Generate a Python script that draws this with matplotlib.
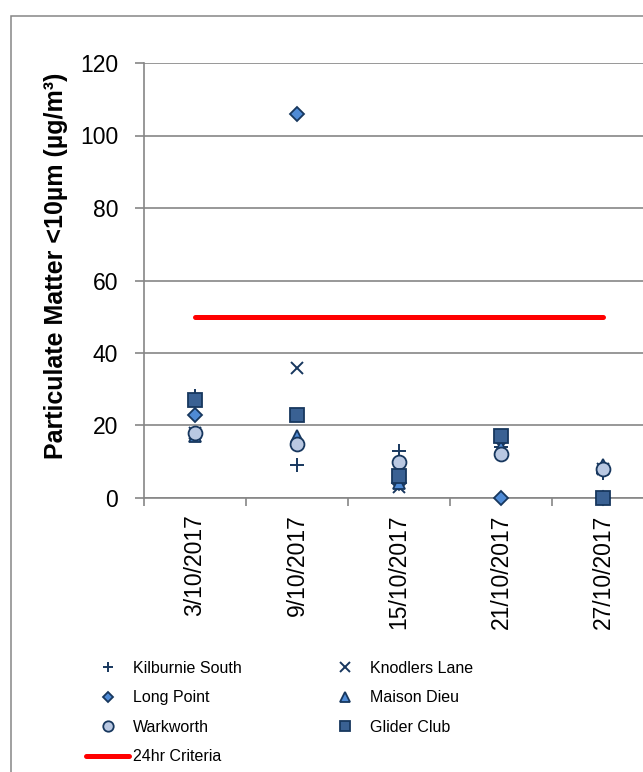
import numpy as np
import matplotlib
matplotlib.use("Agg")
import matplotlib.pyplot as plt
from matplotlib.patches import Rectangle

plt.rcParams["font.family"] = ["Liberation Sans", "DejaVu Sans"]

# Data
dates = ["3/10/2017", "9/10/2017", "15/10/2017", "21/10/2017", "27/10/2017"]
kilburnie_south = [28, 9, 13, 14, 7]
knodlers_lane = [18, 36, 3, 14, 8]
long_point = [23, 106, 4, 0, 0]
maison_dieu = [17, 17, 4, 14, 9]
warkworth = [18, 15, 10, 12, 8]
glider_club = [27, 23, 6, 17, 0]
criteria = [50, 50, 50, 50, 50]

navy = "#17375E"
grey = "#868686"

W, H = 643, 772
fig = plt.figure(figsize=(W / 100, H / 100), dpi=100)

# outer chart border (runs off the right/bottom of the image)
fig.patches.append(Rectangle((11 / W, -0.1), 2, 1 - 16 / H + 0.1,
                             transform=fig.transFigure, fill=False,
                             ec=grey, lw=1.1))

ax = fig.add_axes([144 / W, 1 - 498 / H, 510 / W, 435 / H])
x = np.arange(len(dates))

ax.plot(x, criteria, color="#FF0000", lw=3.6, solid_capstyle="round",
        label="24hr Criteria", zorder=2)

series = [
    ("Kilburnie South", kilburnie_south, dict(marker="+", ms=10, mew=1.4, color=navy)),
    ("Knodlers Lane", knodlers_lane, dict(marker="x", ms=9, mew=1.4, color=navy)),
    ("Long Point", long_point, dict(marker="D", ms=7, mfc="#4F8BD6", mec=navy, mew=1.3)),
    ("Maison Dieu", maison_dieu, dict(marker="^", ms=9, mfc="#4F8BD6", mec=navy, mew=1.3)),
    ("Warkworth", warkworth, dict(marker="o", ms=10, mfc="#B9C8E2", mec=navy, mew=1.3)),
    ("Glider Club", glider_club, dict(marker="s", ms=10, mfc="#3A6193", mec=navy, mew=1.3)),
]
handles = {}
for name, vals, style in series:
    (h,) = ax.plot(x, vals, ls="none", label=name, clip_on=False, zorder=3, **style)
    handles[name] = h
handles["24hr Criteria"] = ax.lines[0]

ax.set_xlim(-0.5, len(dates) - 0.5)
ax.set_ylim(0, 120)
ax.set_yticks(np.arange(0, 121, 20))
ax.grid(axis="y", color=grey, lw=1.2)
ax.set_axisbelow(True)

ax.set_xticks(np.arange(-0.5, len(dates), 1))
ax.set_xticklabels([])
ax.set_xticks(x, minor=True)
ax.set_xticklabels(dates, minor=True, rotation=90, fontsize=16.5)
ax.tick_params(axis="x", which="major", length=6, width=1.2, color=grey, direction="out")
ax.tick_params(axis="x", which="minor", length=0, pad=12)
ax.tick_params(axis="y", length=6.5, width=1.2, color=grey, pad=12, labelsize=16.5)

for s in ["top", "right"]:
    ax.spines[s].set_visible(False)
for s in ["left", "bottom"]:
    ax.spines[s].set_color(grey)
    ax.spines[s].set_linewidth(1.2)

fig.text(56 / W, 1 - 266 / H, "Particulate Matter <10µm (µg/m³)",
         rotation=90, ha="center", va="center", fontsize=18, fontweight="bold")

order = ["Kilburnie South", "Long Point", "Warkworth", "24hr Criteria",
         "Knodlers Lane", "Maison Dieu", "Glider Club"]
fig.legend([handles[n] for n in order], order, ncol=2, frameon=False,
           loc="upper left", bbox_to_anchor=(86 / W, 1 - 661 / H),
           fontsize=11.5, markerscale=0.75, handlelength=2.7, handletextpad=0.25,
           columnspacing=5.1, labelspacing=0.9, borderpad=0, borderaxespad=0)

fig.savefig("out.png", dpi=100)
